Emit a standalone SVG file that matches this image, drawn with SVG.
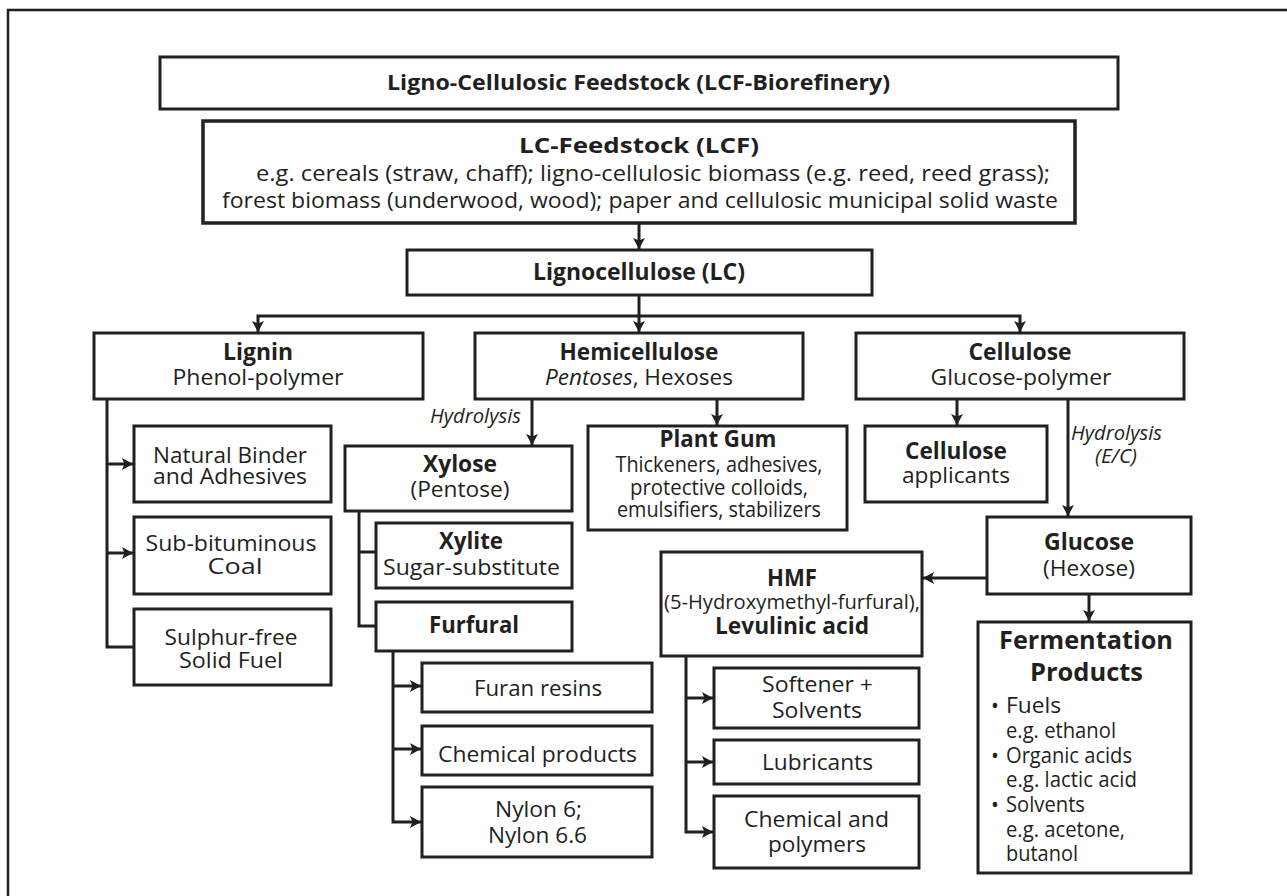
<svg xmlns="http://www.w3.org/2000/svg" width="1287" height="896" viewBox="0 0 1287 896">
<defs>
<marker id="ah" markerUnits="userSpaceOnUse" markerWidth="14" markerHeight="14" refX="11" refY="6" orient="auto">
<path d="M0,0 L11,6 L0,12 L2.5,6 z" fill="#231f20"/>
</marker>
</defs>
<style>
.box{fill:#fff;stroke:#231f20;stroke-width:3}
.ln{fill:none;stroke:#231f20;stroke-width:3}
.ar{marker-end:url(#ah)}
text{font-family:'Open Sans','Noto Sans','DejaVu Sans',sans-serif;font-size:22.5px;fill:#231f20;text-anchor:middle}
.b{font-weight:bold}
.i{font-style:italic}
.s{font-size:21px}
.l{text-anchor:start}
.e{text-anchor:end}
</style>
<rect width="1287" height="896" fill="#fff"/>
<path d="M8,900 V10 H1295" fill="none" stroke="#231f20" stroke-width="2.5"/>

<g id="connectors">
<path class="ln ar" d="M639,223 V249"/>
<path class="ln ar" d="M639,295 V332"/>
<path class="ln ar" d="M639,316 H258 V332"/>
<path class="ln ar" d="M639,316 H1020 V332"/>
<path class="ln" d="M107,399 V647 H134"/>
<path class="ln ar" d="M107,464 H133"/>
<path class="ln ar" d="M107,553 H133"/>
<path class="ln ar" d="M532,399 V445"/>
<path class="ln ar" d="M717,399 V425"/>
<path class="ln ar" d="M957,399 V425"/>
<path class="ln ar" d="M1068,399 V516"/>
<path class="ln" d="M359,511 V626 H376"/>
<path class="ln" d="M359,552 H376"/>
<path class="ln ar" d="M393,651 V822 H421"/>
<path class="ln ar" d="M393,686 H421"/>
<path class="ln ar" d="M393,749 H421"/>
<path class="ln ar" d="M987,578 H923"/>
<path class="ln ar" d="M1089,594 V621"/>
<path class="ln ar" d="M686,656 V832 H713"/>
<path class="ln ar" d="M686,698 H713"/>
<path class="ln ar" d="M686,762 H713"/>
<text class="i e" x="521" y="423" style="font-size:20px" textLength="91" lengthAdjust="spacingAndGlyphs">Hydrolysis</text>
<text class="i l" x="1071" y="440" style="font-size:20px" textLength="91" lengthAdjust="spacingAndGlyphs">Hydrolysis</text>
<text class="i" x="1116" y="463" style="font-size:20px" textLength="42" lengthAdjust="spacingAndGlyphs">(E/C)</text>
</g>

<g id="title">
<rect class="box" x="160" y="57" width="958" height="52"/>
<text class="b l" x="387" y="90" style="font-size:21px" textLength="503" lengthAdjust="spacingAndGlyphs">Ligno-Cellulosic Feedstock (LCF-Biorefinery)</text>
</g>

<g id="lcf">
<rect class="box" x="203" y="121" width="872" height="102" style="stroke-width:3.5"/>
<text class="b" x="639" y="153" style="font-size:21px" textLength="240" lengthAdjust="spacingAndGlyphs">LC-Feedstock (LCF)</text>
<text class="l" x="256" y="181" style="font-size:22px" textLength="794" lengthAdjust="spacingAndGlyphs">e.g. cereals (straw, chaff); ligno-cellulosic biomass (e.g. reed, reed grass);</text>
<text class="l" x="222" y="208" style="font-size:22px" textLength="836" lengthAdjust="spacingAndGlyphs">forest biomass (underwood, wood); paper and cellulosic municipal solid waste</text>
</g>

<g id="lignocellulose">
<rect class="box" x="407" y="250" width="465" height="45"/>
<text class="b" x="639" y="280" textLength="212" lengthAdjust="spacingAndGlyphs">Lignocellulose (LC)</text>
</g>

<g id="lignin">
<rect class="box" x="94" y="333" width="329" height="66"/>
<text class="b" x="258" y="360" textLength="70" lengthAdjust="spacingAndGlyphs">Lignin</text>
<text x="258" y="385" textLength="171" lengthAdjust="spacingAndGlyphs">Phenol-polymer</text>
</g>

<g id="hemicellulose">
<rect class="box" x="475" y="333" width="328" height="66"/>
<text class="b" x="639" y="360" textLength="159" lengthAdjust="spacingAndGlyphs">Hemicellulose</text>
<text x="639" y="385"><tspan class="i">Pentoses</tspan>, Hexoses</text>
</g>

<g id="cellulose">
<rect class="box" x="856" y="333" width="328" height="66"/>
<text class="b" x="1020" y="360" textLength="103" lengthAdjust="spacingAndGlyphs">Cellulose</text>
<text x="1021" y="385" textLength="181" lengthAdjust="spacingAndGlyphs">Glucose-polymer</text>
</g>

<g id="binder">
<rect class="box" x="134" y="426" width="197" height="76"/>
<text x="230" y="463" textLength="154" lengthAdjust="spacingAndGlyphs">Natural Binder</text>
<text x="230" y="484" textLength="154" lengthAdjust="spacingAndGlyphs">and Adhesives</text>
</g>

<g id="coal">
<rect class="box" x="134" y="517" width="197" height="77"/>
<text x="231" y="551" textLength="171" lengthAdjust="spacingAndGlyphs">Sub-bituminous</text>
<text x="235" y="574" textLength="55" lengthAdjust="spacingAndGlyphs">Coal</text>
</g>

<g id="solidfuel">
<rect class="box" x="134" y="609" width="197" height="76"/>
<text x="231" y="645" textLength="133" lengthAdjust="spacingAndGlyphs">Sulphur-free</text>
<text x="231" y="668" textLength="104" lengthAdjust="spacingAndGlyphs">Solid Fuel</text>
</g>

<g id="xylose">
<rect class="box" x="345" y="446" width="227" height="65"/>
<text class="b" x="460" y="472" textLength="74" lengthAdjust="spacingAndGlyphs">Xylose</text>
<text x="460" y="497" textLength="99" lengthAdjust="spacingAndGlyphs">(Pentose)</text>
</g>

<g id="xylite">
<rect class="box" x="376" y="523" width="196" height="65"/>
<text class="b" x="471" y="549" textLength="64" lengthAdjust="spacingAndGlyphs">Xylite</text>
<text x="471.5" y="575" textLength="177" lengthAdjust="spacingAndGlyphs">Sugar-substitute</text>
</g>

<g id="furfural">
<rect class="box" x="376" y="602" width="196" height="49"/>
<text class="b" x="474" y="633" textLength="90" lengthAdjust="spacingAndGlyphs">Furfural</text>
</g>

<g id="plantgum">
<rect class="box" x="588" y="426" width="259" height="104"/>
<text class="b" x="718" y="447" textLength="117" lengthAdjust="spacingAndGlyphs">Plant Gum</text>
<text x="719" y="472" textLength="207" lengthAdjust="spacingAndGlyphs">Thickeners, adhesives,</text>
<text x="719" y="495" textLength="178" lengthAdjust="spacingAndGlyphs">protective colloids,</text>
<text x="719" y="517" textLength="204" lengthAdjust="spacingAndGlyphs">emulsifiers, stabilizers</text>
</g>

<g id="applicants">
<rect class="box" x="865" y="426" width="182" height="76"/>
<text class="b" x="956" y="459" textLength="102" lengthAdjust="spacingAndGlyphs">Cellulose</text>
<text x="956" y="483" textLength="108" lengthAdjust="spacingAndGlyphs">applicants</text>
</g>

<g id="glucose">
<rect class="box" x="987" y="517" width="204" height="77"/>
<text class="b" x="1089" y="550" textLength="90" lengthAdjust="spacingAndGlyphs">Glucose</text>
<text x="1089" y="576" textLength="92" lengthAdjust="spacingAndGlyphs">(Hexose)</text>
</g>

<g id="hmf">
<rect class="box" x="661" y="552" width="261" height="104"/>
<text class="b" x="792" y="586" textLength="50" lengthAdjust="spacingAndGlyphs">HMF</text>
<text x="792" y="609" style="font-size:20px" textLength="256" lengthAdjust="spacingAndGlyphs">(5-Hydroxymethyl-furfural),</text>
<text class="b" x="792" y="634" textLength="154" lengthAdjust="spacingAndGlyphs">Levulinic acid</text>
</g>

<g id="furan">
<rect class="box" x="422" y="663" width="230" height="49"/>
<text x="538" y="696" textLength="128" lengthAdjust="spacingAndGlyphs">Furan resins</text>
</g>

<g id="chemprod">
<rect class="box" x="422" y="726" width="230" height="49"/>
<text x="537.5" y="762" textLength="199" lengthAdjust="spacingAndGlyphs">Chemical products</text>
</g>

<g id="nylon">
<rect class="box" x="422" y="787" width="230" height="70"/>
<text x="538.5" y="817" textLength="87" lengthAdjust="spacingAndGlyphs">Nylon 6;</text>
<text x="537.5" y="843" textLength="99" lengthAdjust="spacingAndGlyphs">Nylon 6.6</text>
</g>

<g id="softener">
<rect class="box" x="714" y="668" width="205" height="60"/>
<text x="817.5" y="692" textLength="111" lengthAdjust="spacingAndGlyphs">Softener +</text>
<text x="817" y="718" textLength="90" lengthAdjust="spacingAndGlyphs">Solvents</text>
</g>

<g id="lubricants">
<rect class="box" x="714" y="740" width="205" height="44"/>
<text x="817.5" y="770" textLength="111" lengthAdjust="spacingAndGlyphs">Lubricants</text>
</g>

<g id="chempoly">
<rect class="box" x="714" y="796" width="205" height="72"/>
<text x="816.5" y="827" textLength="145" lengthAdjust="spacingAndGlyphs">Chemical and</text>
<text x="817" y="852" textLength="98" lengthAdjust="spacingAndGlyphs">polymers</text>
</g>

<g id="fermentation">
<rect class="box" x="978" y="622" width="213" height="251"/>
<text class="b" x="1086" y="649" style="font-size:25px" textLength="174" lengthAdjust="spacingAndGlyphs">Fermentation</text>
<text class="b" x="1086.5" y="681" style="font-size:25px" textLength="113" lengthAdjust="spacingAndGlyphs">Products</text>
<text class="s" x="995" y="713">•</text>
<text class="s" x="995" y="763">•</text>
<text class="s" x="995" y="812">•</text>
<text class="s l" x="1006" y="713" textLength="55" lengthAdjust="spacingAndGlyphs">Fuels</text>
<text class="s l" x="1006" y="738" textLength="110" lengthAdjust="spacingAndGlyphs">e.g. ethanol</text>
<text class="s l" x="1006" y="763" textLength="126" lengthAdjust="spacingAndGlyphs">Organic acids</text>
<text class="s l" x="1006" y="787" textLength="131" lengthAdjust="spacingAndGlyphs">e.g. lactic acid</text>
<text class="s l" x="1006" y="812" textLength="79" lengthAdjust="spacingAndGlyphs">Solvents</text>
<text class="s l" x="1006" y="837" textLength="119" lengthAdjust="spacingAndGlyphs">e.g. acetone,</text>
<text class="s l" x="1006" y="861" textLength="72" lengthAdjust="spacingAndGlyphs">butanol</text>
</g>
</svg>
